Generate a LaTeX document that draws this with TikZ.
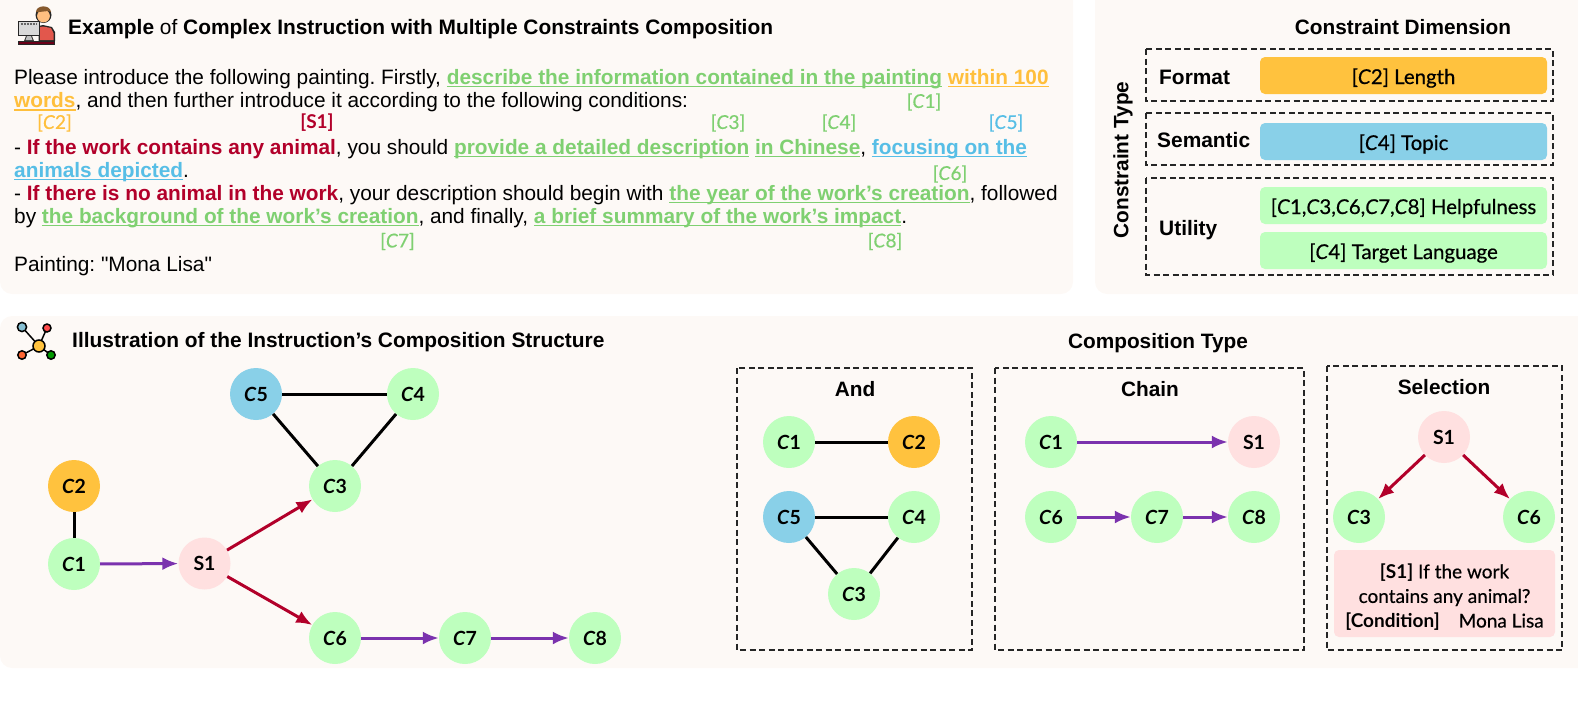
\documentclass[tikz,border=0pt]{standalone}
\usepackage{fontspec}
\setmainfont{Liberation Sans}[Ligatures=TeXOff]
\newfontfamily\comic{Lato}[FakeBold=0.5]
\newfontfamily\comicb{Lato Bold}
\usetikzlibrary{arrows.meta}
\definecolor{panelbg}{HTML}{FDF9F6}
\definecolor{tgreen}{HTML}{7FD071}
\definecolor{torange}{HTML}{FFBF3C}
\definecolor{tred}{HTML}{B2002A}
\definecolor{tblue}{HTML}{57BEE6}
\definecolor{npurple}{HTML}{7B32AE}
\definecolor{ngreen}{HTML}{BEFFBE}
\definecolor{nblue}{HTML}{89D0E8}
\definecolor{npink}{HTML}{FFE0E0}
\definecolor{norange}{HTML}{FFC23E}
\definecolor{shirt}{HTML}{E2574C}
\newcommand\Cn[1]{\textit{C}#1}
\newlength\ulwd
\newcommand\ul[2]{{\color{#1}\bfseries\settowidth\ulwd{#2}\rlap{\rule[-3.4pt]{\ulwd}{1.8pt}}#2}}
\frenchspacing
\tikzset{
  x=1pt,y=-1pt,
  panel/.style={fill=panelbg,draw=none,rounded corners=12pt},
  bodyline/.style={anchor=base west,inner sep=0pt,font=\fontsize{20.83}{22}\selectfont\frenchspacing},
  headline/.style={anchor=base west,inner sep=0pt,font=\fontsize{20.9}{22}\selectfont\bfseries},
  heading/.style={inner sep=0pt,font=\fontsize{20.8}{22}\selectfont\bfseries},
  tag/.style={inner sep=0pt,font=\comic\fontsize{19}{20}\selectfont},
  gnode/.style={circle,minimum size=52pt,inner sep=0pt,font=\comicb\fontsize{19.5}{20}\selectfont},
  cg/.style={gnode,fill=ngreen},
  cb/.style={gnode,fill=nblue},
  cp/.style={gnode,fill=npink},
  co/.style={gnode,fill=norange},
  dashbox/.style={draw=black!85,line width=1.3pt,dash pattern=on 6pt off 3.5pt},
  bar/.style={rounded corners=5pt,draw=none,inner sep=0pt,font=\comic\fontsize{20.4}{22}\selectfont,text=black,
    minimum width=287pt,minimum height=37pt,text height=17pt,text depth=0pt},
  pinkbox/.style={rounded corners=5pt,draw=none,fill=npink,inner sep=0pt,minimum width=221pt,minimum height=87pt},
  pinktext/.style={inner sep=0pt,align=center,text=black,font=\comic\fontsize{19}{24.6}\selectfont},
  plainedge/.style={black,line width=3pt},
  seq/.style={npurple,line width=3pt,-{Latex[length=16pt,width=13pt]}},
  cond/.style={tred,line width=3pt,-{Latex[length=16pt,width=13pt]}},
  iconline/.style={black,line width=1.5pt},
}
\begin{document}
\begin{tikzpicture}
\useasboundingbox (0,0) rectangle (1578,718);
% panels
\fill[panel] (0,-14) rectangle (1073,294);
\fill[panel] (1095,-14) rectangle (1592,294);
\fill[panel] (0,316) rectangle (1592,668);

% person icon
\fill[black!85] (18,41) rectangle (55,45);
\fill[tred!60!black] (19,42) rectangle (54,44);
\fill[black!85] (38.5,26) -- (43,25) -- (52,27) -- (55,32) -- (55,41) -- (38.5,41) -- cycle;
\fill[shirt] (40,27) -- (43,26.5) -- (51,28) -- (53.5,33) -- (53.5,40) -- (40,40) -- cycle;
\fill[black!85] (18,21) rectangle (40,36);
\fill[black!15] (19.2,22.2) rectangle (38.8,34.8);
\draw[black!60,line width=1.2pt,dash pattern=on 2pt off 1pt] (21,24) -- (37,24);
\fill[black!80] (26,36) -- (32,36) -- (34,41) -- (24,41) -- cycle;
\fill[black!25] (27,36) -- (31,36) -- (32.5,40) -- (25.5,40) -- cycle;
\fill[black!85] (43.5,15) circle (8);
\fill[orange!50!white] (43.5,16) circle (6.4);
\fill[brown!70!black] (36,12) .. controls (36,5) and (50,4) .. (51,12) -- (48,11) -- (39,12) -- cycle;

% headings top-left
\node[headline] (t1) at (68,34) {Example {\mdseries of} Complex Instruction with Multiple Constraints Composition};

% body text
\node[bodyline] (l1) at (14,84) {Please introduce the following painting. Firstly, \ul{tgreen}{describe the information contained in the painting} \ul{torange}{within 100}};
\node[bodyline] (l2) at (14,107.5) {\ul{torange}{words}, and then further introduce it according to the following conditions:};
\node[bodyline] (l3) at (14,154) {- {\color{tred}\bfseries If the work contains any animal}, you should \ul{tgreen}{provide a detailed description} \ul{tgreen}{in Chinese}, \ul{tblue}{focusing on the}};
\node[bodyline] (l4) at (14,177) {\ul{tblue}{animals depicted}.};
\node[bodyline] (l5) at (14,200) {- {\color{tred}\bfseries If there is no animal in the work}, your description should begin with \ul{tgreen}{the year of the work’s creation}, followed};
\node[bodyline] (l6) at (14,223) {by \ul{tgreen}{the background of the work’s creation}, and finally, \ul{tgreen}{a brief summary of the work’s impact}.};
\node[bodyline] (l7) at (14,271.5) {Painting: "Mona Lisa"};

% tags
\node[tag,text=tgreen] (tc1) at (924,102) {[\Cn{1}]};
\node[tag,text=torange] (tc2) at (54.5,123) {[\Cn{2}]};
\node[tag,text=tred,font=\comicb\fontsize{19}{20}\selectfont] (ts1) at (317,123) {[S1]};
\node[tag,text=tgreen] (tc3) at (728,123) {[\Cn{3}]};
\node[tag,text=tgreen] (tc4) at (839,123) {[\Cn{4}]};
\node[tag,text=tblue] (tc5) at (1006,123) {[\Cn{5}]};
\node[tag,text=tgreen] (tc6) at (950,174) {[\Cn{6}]};
\node[tag,text=tgreen] (tc7) at (397.5,241.5) {[\Cn{7}]};
\node[tag,text=tgreen] (tc8) at (885,241.5) {[\Cn{8}]};

% constraint dimension
\node[heading] (cd) at (1403,27) {Constraint Dimension};
\node[heading,rotate=90] (ct) at (1123,160) {Constraint Type};
\draw[dashbox] (1146,49) rectangle (1553,101);
\draw[dashbox] (1146,113) rectangle (1553,165);
\draw[dashbox] (1146,178) rectangle (1553,275);
\node[headline,anchor=west] (fm) at (1159,77) {Format};
\node[headline,anchor=west] (sm) at (1157,140.5) {Semantic};
\node[headline,anchor=west] (ut) at (1159,230) {Utility};
\node[bar,fill=norange] (b1) at (1403.5,75.5) {[\Cn{2}] Length};
\node[bar,fill=nblue] (b2) at (1403.5,141.5) {[\Cn{4}] Topic};
\node[bar,fill=ngreen] (b3) at (1403.5,205.5) {[\Cn{1},\Cn{3},\Cn{6},\Cn{7},\Cn{8}] Helpfulness};
\node[bar,fill=ngreen] (b4) at (1403.5,250.5) {[\Cn{4}] Target Language};

% network icon
\coordinate (ic) at (39,346);
\coordinate (ia) at (22,327);
\coordinate (ib) at (47,328);
\coordinate (id) at (22,355);
\coordinate (ie) at (51,355);
\draw[iconline] (ic) -- (ia) (ic) -- (ib) (ic) -- (id) (ic) -- (ie);
\filldraw[iconline,fill=norange] (ic) circle (6);
\filldraw[iconline,fill=nblue!80!gray] (ia) circle (4.6);
\filldraw[iconline,fill=red!60!pink] (ib) circle (4);
\filldraw[iconline,fill=red!50!orange!80!white] (id) circle (4.2);
\filldraw[iconline,fill=green!60!black] (ie) circle (4.2);

\node[headline] (t2) at (72,347) {Illustration of the Instruction’s Composition Structure};

% main graph
\node[cb] (mc5) at (256,394) {\Cn{5}};
\node[cg] (mc4) at (413,394) {\Cn{4}};
\node[cg] (mc3) at (335,486) {\Cn{3}};
\node[co] (mc2) at (74,486) {\Cn{2}};
\node[cg] (mc1) at (74,564) {\Cn{1}};
\node[cp] (ms1) at (204.5,563.5) {S1};
\node[cg] (mc6) at (335,638) {\Cn{6}};
\node[cg] (mc7) at (465,638) {\Cn{7}};
\node[cg] (mc8) at (595,638) {\Cn{8}};
\draw[plainedge] (mc5) -- (mc4);
\draw[plainedge] (mc5) -- (mc3);
\draw[plainedge] (mc4) -- (mc3);
\draw[plainedge] (mc2) -- (mc1);
\draw[seq] (mc1) -- (ms1);
\draw[cond] (ms1) -- (mc3);
\draw[cond] (ms1) -- (mc6);
\draw[seq] (mc6) -- (mc7);
\draw[seq] (mc7) -- (mc8);

% composition types
\node[heading] (ctt) at (1158,343) {Composition Type};
\draw[dashbox] (737,368) rectangle (972,650);
\draw[dashbox] (995,368) rectangle (1304,650);
\draw[dashbox] (1327,366) rectangle (1562,650);
\node[heading] (ta) at (855,389) {And};
\node[heading] (tb) at (1150,389) {Chain};
\node[heading] (tc) at (1444,387) {Selection};

\node[cg] (ac1) at (789,442) {\Cn{1}};
\node[co] (ac2) at (914,442) {\Cn{2}};
\node[cb] (ac5) at (789,517) {\Cn{5}};
\node[cg] (ac4) at (914,517) {\Cn{4}};
\node[cg] (ac3) at (854,594) {\Cn{3}};
\draw[plainedge] (ac1) -- (ac2);
\draw[plainedge] (ac5) -- (ac4);
\draw[plainedge] (ac5) -- (ac3);
\draw[plainedge] (ac4) -- (ac3);

\node[cg] (bc1) at (1051,442) {\Cn{1}};
\node[cp] (bs1) at (1254,442) {S1};
\node[cg] (bc6) at (1051,517) {\Cn{6}};
\node[cg] (bc7) at (1157,517) {\Cn{7}};
\node[cg] (bc8) at (1254,517) {\Cn{8}};
\draw[seq] (bc1) -- (bs1);
\draw[seq] (bc6) -- (bc7);
\draw[seq] (bc7) -- (bc8);

\node[cp] (ss1) at (1444,437) {S1};
\node[cg] (sc3) at (1359,517) {\Cn{3}};
\node[cg] (sc6) at (1529,517) {\Cn{6}};
\draw[cond] (ss1) -- (sc3);
\draw[cond] (ss1) -- (sc6);

\node[pinkbox] (sb) at (1444.5,593.5) {};
\node[pinktext] (sbt) at (1444.5,597) {{\comicb [S1]} If the work\\ contains any animal?\\ {\comicb [Condition]}\quad Mona Lisa};
\end{tikzpicture}
\end{document}
